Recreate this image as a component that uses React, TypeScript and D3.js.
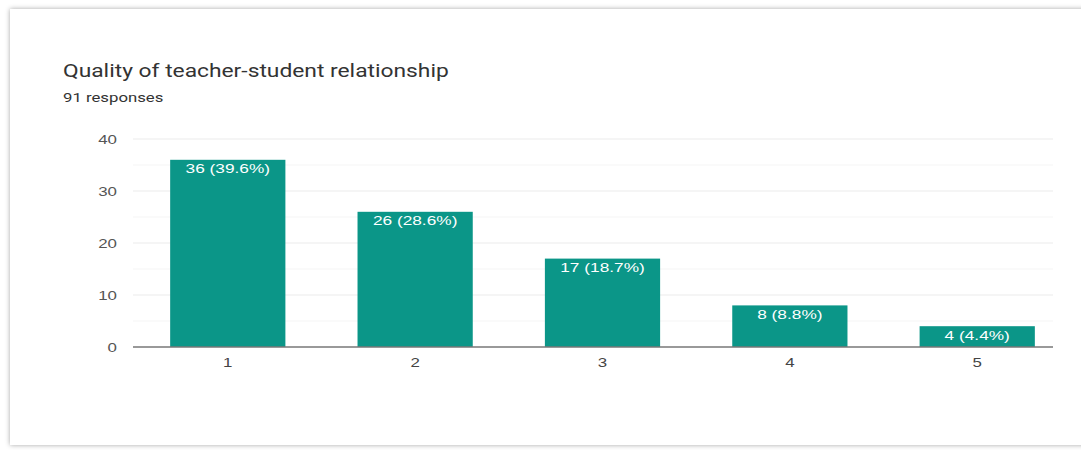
import React from "react";
import * as d3 from "d3";

const categories = ["1", "2", "3", "4", "5"];
const counts = [36, 26, 17, 8, 4];
const percents = ["39.6%", "28.6%", "18.7%", "8.8%", "4.4%"];
const yTicks = [0, 10, 20, 30, 40];
const yMinorTicks = [5, 15, 25, 35];
const title = "Quality of teacher-student relationship";
const subtitle = "91 responses";

const W = 1081;
const H = 450;
const FONT = "Roboto, Arial, sans-serif";
const SANS = "Arial, Liberation Sans, sans-serif";

export default function App() {
  const y = d3.scaleLinear().domain([0, 40]).range([347, 139]);
  const x = d3.scaleBand<string>().domain(categories).range([134, 1071]).paddingInner(0.385).paddingOuter(0.193);
  const axisLeft = 133;
  const axisRight = 1053;

  return (
    <div style={{ position: "absolute", left: 0, top: 0, width: W, height: H, background: "#fff" }}>
      <svg width={W} height={H} style={{ display: "block" }}>
        <defs>
          <filter id="sh" x="-5%" y="-5%" width="110%" height="110%">
            <feDropShadow dx="0" dy="0" stdDeviation="2.5" floodColor="#000" floodOpacity="0.35" />
          </filter>
        </defs>
        <rect x={0} y={0} width={W} height={H} fill="#fff" />
        <rect x={10} y={9} width={W + 20} height={436} fill="#fff" filter="url(#sh)" />
        <text transform="translate(63,76.5) scale(1.2,1)" fontFamily={FONT} fontSize={19} fill="#333">{title}</text>
        <text transform="translate(63,102) scale(1.34,1)" fontFamily={FONT} fontSize={12.5} fill="#333">{subtitle}</text>
        {yMinorTicks.map((t) => (
          <line key={"m" + t} x1={axisLeft} x2={axisRight} y1={y(t)} y2={y(t)} stroke="#f5f5f5" strokeWidth={1} />
        ))}
        {yTicks.filter((t) => t > 0).map((t) => (
          <line key={"g" + t} x1={axisLeft} x2={axisRight} y1={y(t)} y2={y(t)} stroke="#ebebeb" strokeWidth={1} />
        ))}
        {yTicks.map((t) => (
          <text key={"t" + t} transform={`translate(117,${y(t)}) scale(1.25,1)`} dy="0.35em" textAnchor="end" fontFamily={SANS} fontSize={13.5} fill="#555">{t}</text>
        ))}
        {categories.map((c, i) => {
          const cx = (x(c) as number) + x.bandwidth() / 2;
          return (
            <g key={c}>
              <rect x={x(c)} y={y(counts[i])} width={x.bandwidth()} height={y(0) - y(counts[i])} fill="#0b9688" />
              <text transform={`translate(${cx},${y(counts[i]) + 13.5}) scale(1.28,1)`} textAnchor="middle" fontFamily={SANS} fontSize={13.5} fill="#fff">
                {`${counts[i]} (${percents[i]})`}
              </text>
              <text transform={`translate(${cx},367) scale(1.25,1)`} textAnchor="middle" fontFamily={SANS} fontSize={13.5} fill="#444">{c}</text>
            </g>
          );
        })}
        <line x1={axisLeft} x2={axisRight} y1={y(0)} y2={y(0)} stroke="#777" strokeWidth={1.5} />
      </svg>
    </div>
  );
}
